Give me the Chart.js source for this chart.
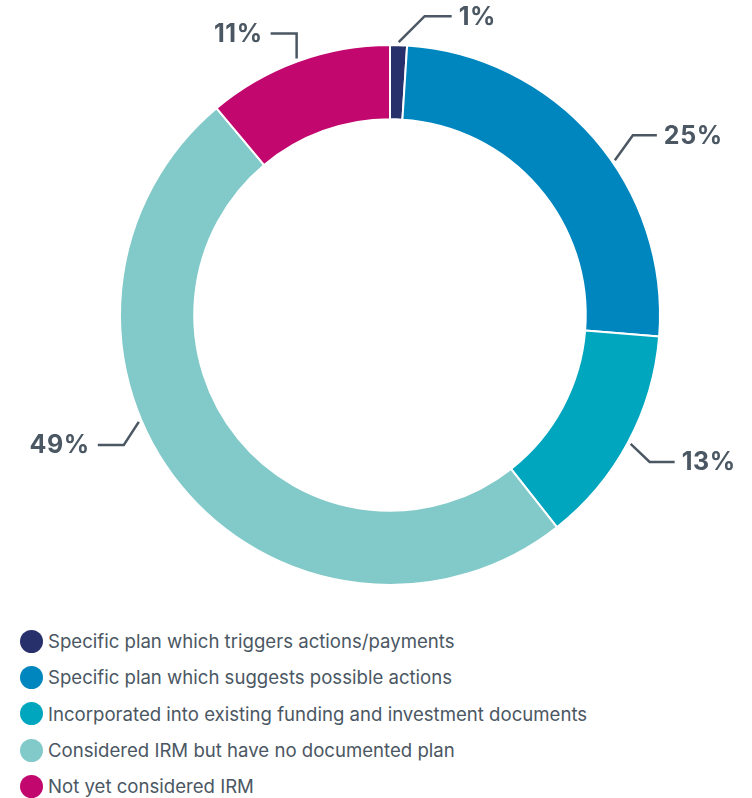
<!DOCTYPE html>
<html lang="en">
<head>
    <title>IRM plans</title>
    <script src="https://cdn.jsdelivr.net/npm/chart.js"></script>
    <style>
        body {
            margin: 0;
            background: #fff;
            font-family: Inter, "Liberation Sans", sans-serif;
        }
        .wrap {
            position: relative;
            width: 752px;
            height: 798px;
        }
        .chart-box {
            position: absolute;
            left: 0;
            top: 0;
            width: 752px;
            height: 600px;
        }
        #legend {
            position: absolute;
            left: 20px;
            top: 623px;
            margin: 0;
            padding: 0;
            list-style: none;
        }
        #legend li {
            display: flex;
            align-items: center;
            height: 36.3px;
            font-size: 18.6px;
            color: #4b5763;
            white-space: nowrap;
        }
        #legend span {
            display: inline-block;
            width: 23px;
            height: 23px;
            border-radius: 50%;
            margin-right: 5px;
        }
    </style>
</head>
<body>
    <div class="wrap">
        <div class="chart-box"><canvas id="irm"></canvas></div>
        <ul id="legend"></ul>
    </div>

    <script>
        const categories = [
            'Specific plan which triggers actions/payments',
            'Specific plan which suggests possible actions',
            'Incorporated into existing funding and investment documents',
            'Considered IRM but have no documented plan',
            'Not yet considered IRM'
        ];
        const shares = [1, 25, 13, 49, 11];
        const colors = ['#27306b', '#0086be', '#00a5be', '#82c9c9', '#c2086f'];

        // where each leader line leaves its slice and how it bends
        const leaders = [
            { at: 0.5,  elbow: [26, -26], arm: 27 },
            { at: 0.57, elbow: [18, -25], arm: 24 },
            { at: 0.5,  elbow: [19, 18],  arm: 25 },
            { at: 0.59, elbow: [-15, 23], arm: -26 },
            { at: 0.5,  elbow: [0, -25],  arm: -26 }
        ];

        const leaderLabels = {
            id: 'leaderLabels',
            afterDatasetsDraw(chart) {
                const ctx = chart.ctx;
                const arcs = chart.getDatasetMeta(0).data;
                ctx.save();
                ctx.strokeStyle = '#4b5763';
                ctx.fillStyle = '#4b5763';
                ctx.lineWidth = 2.5;
                ctx.font = 'bold 25px Inter, "Liberation Sans", sans-serif';
                ctx.letterSpacing = '0.6px';
                ctx.textBaseline = 'middle';
                arcs.forEach((arc, i) => {
                    const p = arc.getProps(['x', 'y', 'startAngle', 'endAngle', 'outerRadius'], true);
                    const l = leaders[i];
                    const a = p.startAngle + (p.endAngle - p.startAngle) * l.at;
                    const r = p.outerRadius + 3;
                    const x0 = p.x + r * Math.cos(a);
                    const y0 = p.y + r * Math.sin(a);
                    const x1 = x0 + l.elbow[0];
                    const y1 = y0 + l.elbow[1];
                    const x2 = x1 + l.arm;
                    ctx.beginPath();
                    ctx.moveTo(x0, y0);
                    ctx.lineTo(x1, y1);
                    ctx.lineTo(x2, y1);
                    ctx.stroke();
                    ctx.textAlign = l.arm > 0 ? 'left' : 'right';
                    ctx.fillText(shares[i] + '%', x2 + (l.arm > 0 ? 7 : -8), y1 + 1);
                });
                ctx.restore();
            }
        };

        new Chart(document.getElementById('irm'), {
            type: 'doughnut',
            data: {
                labels: categories,
                datasets: [{
                    data: shares,
                    backgroundColor: colors,
                    borderColor: '#ffffff',
                    borderWidth: 2
                }]
            },
            options: {
                responsive: true,
                maintainAspectRatio: false,
                animation: false,
                cutout: '72.5%',
                layout: {
                    padding: { left: 119, right: 91, top: 44, bottom: 14 }
                },
                plugins: {
                    legend: { display: false },
                    tooltip: { enabled: false }
                }
            },
            plugins: [leaderLabels]
        });

        const legend = document.getElementById('legend');
        categories.forEach((name, i) => {
            const li = document.createElement('li');
            const dot = document.createElement('span');
            dot.style.background = colors[i];
            li.appendChild(dot);
            li.appendChild(document.createTextNode(name));
            legend.appendChild(li);
        });
    </script>
</body>
</html>
